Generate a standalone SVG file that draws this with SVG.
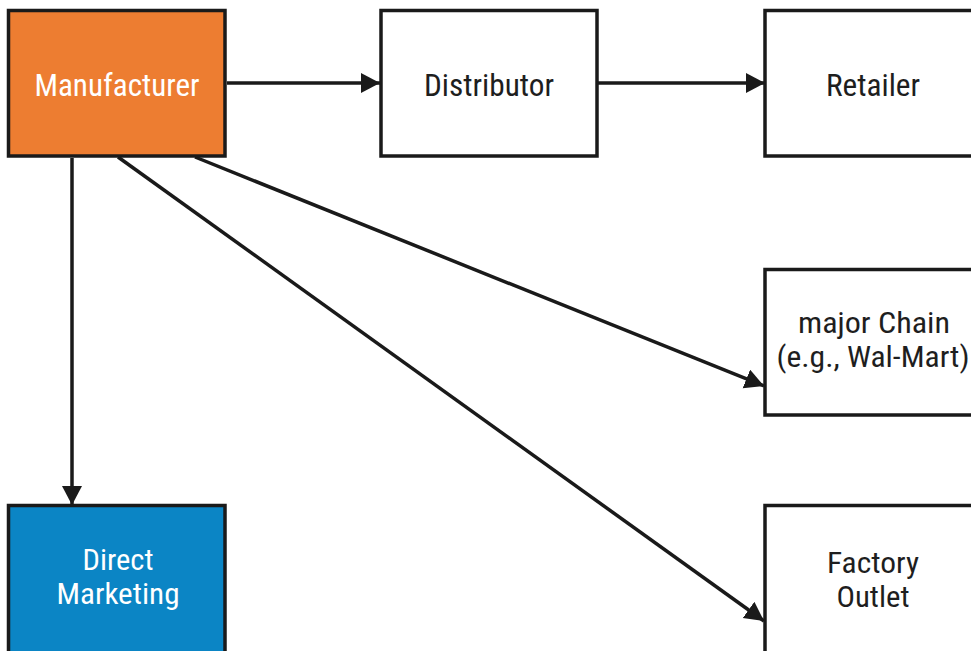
<svg xmlns="http://www.w3.org/2000/svg" width="971" height="651" viewBox="0 0 971 651">
<style>
.box{stroke:#1a1a1a;stroke-width:3.5}
.w{fill:#ffffff}
.o{fill:#ED7D31}
.b{fill:#0B85C5}
.t{font-family:"Roboto Condensed","Liberation Sans Narrow","DejaVu Sans Condensed",Roboto,sans-serif;font-size:31px;text-anchor:middle}
.s{font-size:29px}
.dk{fill:#1e1e1e}
.lt{fill:#ffffff}
.c{stroke:#1a1a1a;stroke-width:3.5;fill:none;marker-end:url(#ah)}
</style>
<defs>
<marker id="ah" markerUnits="userSpaceOnUse" markerWidth="20" markerHeight="22" refX="19" refY="10" orient="auto">
<path d="M0,0 L19,10 L0,20 z" fill="#1a1a1a"/>
</marker>
</defs>
<rect width="971" height="651" fill="#ffffff"/>
<g id="connectors">
<line class="c" x1="227" y1="83" x2="380" y2="83"/>
<line class="c" x1="597" y1="83" x2="765" y2="83"/>
<line class="c" x1="72" y1="158" x2="72" y2="505"/>
<line class="c" x1="195" y1="157" x2="764" y2="386"/>
<line class="c" x1="118" y1="157" x2="764" y2="621"/>
</g>
<g id="manufacturer">
<rect class="box o" x="8.5" y="10.5" width="216.5" height="145.5"/>
<text class="t lt" x="117" y="96" textLength="165" lengthAdjust="spacingAndGlyphs">Manufacturer</text>
</g>
<g id="distributor">
<rect class="box w" x="381" y="10.5" width="216" height="145.5"/>
<text class="t dk" x="489" y="96" textLength="130" lengthAdjust="spacingAndGlyphs">Distributor</text>
</g>
<g id="retailer">
<rect class="box w" x="765" y="10.5" width="220" height="145.5"/>
<text class="t dk" x="873" y="96" textLength="94" lengthAdjust="spacingAndGlyphs">Retailer</text>
</g>
<g id="major-chain">
<rect class="box w" x="765" y="269.5" width="220" height="145.5"/>
<text class="t s dk" x="874" y="333" textLength="152" lengthAdjust="spacingAndGlyphs">major Chain</text>
<text class="t s dk" x="873" y="367" textLength="193" lengthAdjust="spacingAndGlyphs">(e.g., Wal-Mart)</text>
</g>
<g id="direct-marketing">
<rect class="box b" x="8.5" y="505.5" width="216.5" height="160"/>
<text class="t s lt" x="118" y="570" textLength="71" lengthAdjust="spacingAndGlyphs">Direct</text>
<text class="t s lt" x="118" y="604" textLength="123" lengthAdjust="spacingAndGlyphs">Marketing</text>
</g>
<g id="factory-outlet">
<rect class="box w" x="765" y="505.5" width="220" height="160"/>
<text class="t s dk" x="873" y="573" textLength="92" lengthAdjust="spacingAndGlyphs">Factory</text>
<text class="t s dk" x="873" y="607" textLength="73" lengthAdjust="spacingAndGlyphs">Outlet</text>
</g>
</svg>
